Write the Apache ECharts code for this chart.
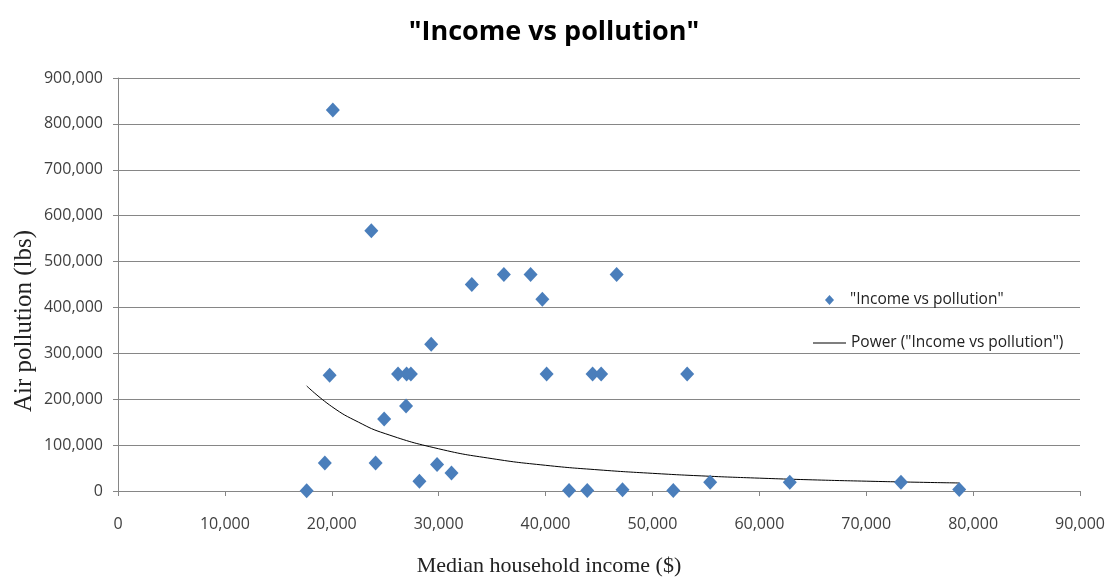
<!DOCTYPE html>
<html>
<head>
<meta charset="utf-8">
<script src="https://cdn.jsdelivr.net/npm/echarts@6/dist/echarts.min.js"></script>
<style>html,body{margin:0;padding:0;background:#fff;}#c{width:1108px;height:579px;}</style>
</head>
<body>
<div id="c"></div>
<script>
// Median household income ($)
const incomes = [20100, 23700, 33100, 36100, 38600, 39700, 46650, 29300, 19800, 26200,
  27000, 27400, 40100, 44400, 45200, 53250, 26950, 24900, 19350, 24100,
  29850, 31200, 28200, 17650, 42200, 43900, 47200, 51950, 55400, 62850,
  73250, 78700];
// Air pollution (lbs)
const pollution = [830000, 567000, 450000, 472000, 472000, 418000, 472000, 320000, 252000, 255000,
  255000, 255000, 255000, 255000, 255000, 255000, 185000, 157000, 61000, 61000,
  58000, 39000, 21000, 500, 1000, 1000, 2500, 1000, 19000, 19000,
  19000, 3000];
// Power trendline
const trendX = [17650, 20000, 22500, 25000, 30000, 35000, 40000, 45000, 50000, 55000, 60000, 65000, 70000, 75000, 78700];
const trendY = [229000, 184000, 150000, 125000, 92000, 70500, 56000, 46000, 38500, 32500, 28000, 24300, 21400, 19000, 17500];

const titleText = '"Income vs pollution"';
const scatterName = '"Income vs pollution"';
const trendName = 'Power ("Income vs pollution")';
const xName = 'Median household income ($)';
const yName = 'Air pollution (lbs)';

const fmt = v => v.toLocaleString('en-US');
const legendText = {fontFamily: 'Open Sans', fontSize: 15.5, color: '#222', lineHeight: 18};

const chart = echarts.init(document.getElementById('c'), null, {renderer: 'canvas'});
chart.setOption({
  animation: false,
  backgroundColor: '#ffffff',
  title: {
    text: titleText,
    left: 'center',
    top: 14,
    textStyle: {fontFamily: 'Open Sans', fontWeight: 'bold', fontSize: 27, color: '#000'}
  },
  legend: [
    {
      data: [{name: scatterName, icon: 'diamond'}],
      left: 820, top: 286,
      itemWidth: 9, itemHeight: 10,
      textStyle: Object.assign({}, legendText, {padding: [0, 0, 0, 11]})
    },
    {
      data: [{name: trendName, icon: 'rect'}],
      left: 808, top: 329,
      itemWidth: 33, itemHeight: 1,
      textStyle: legendText
    }
  ],
  graphic: [
    {
      type: 'text',
      x: 24, y: 321,
      rotation: Math.PI / 2,
      style: {text: yName, fontFamily: 'Liberation Serif', fontSize: 25, fill: '#222', align: 'center', verticalAlign: 'middle'}
    },
    {
      type: 'text',
      x: 549, y: 566,
      style: {text: xName, fontFamily: 'Liberation Serif', fontSize: 22, fill: '#222', align: 'center', verticalAlign: 'middle'}
    }
  ],
  grid: {left: 118, right: 28, top: 78, bottom: 88},
  xAxis: {
    type: 'value', min: 0, max: 90000, interval: 10000,
    axisLine: {show: true, lineStyle: {color: '#868686', width: 1}},
    axisTick: {show: true, inside: false, length: 5, lineStyle: {color: '#868686'}},
    axisLabel: {formatter: fmt, fontFamily: 'Open Sans', fontSize: 16, color: '#404040', margin: 25},
    splitLine: {show: false}
  },
  yAxis: {
    type: 'value', min: 0, max: 900000, interval: 100000,
    axisLine: {show: true, lineStyle: {color: '#868686', width: 1}},
    axisTick: {show: true, inside: false, length: 5, lineStyle: {color: '#868686'}},
    axisLabel: {formatter: fmt, fontFamily: 'Open Sans', fontSize: 16, color: '#404040', margin: 15},
    splitLine: {show: true, lineStyle: {color: '#868686', width: 1}}
  },
  series: [
    {
      name: scatterName,
      type: 'scatter',
      symbol: 'diamond',
      symbolSize: [14, 15],
      itemStyle: {color: '#4A7EBB', opacity: 1},
      data: incomes.map((x, i) => [x, pollution[i]]),
      z: 3
    },
    {
      name: trendName,
      type: 'line',
      smooth: true,
      symbol: 'none',
      showSymbol: false,
      lineStyle: {color: '#000', width: 1},
      itemStyle: {color: '#000'},
      data: trendX.map((x, i) => [x, trendY[i]]),
      z: 2
    }
  ]
});
</script>
</body>
</html>
